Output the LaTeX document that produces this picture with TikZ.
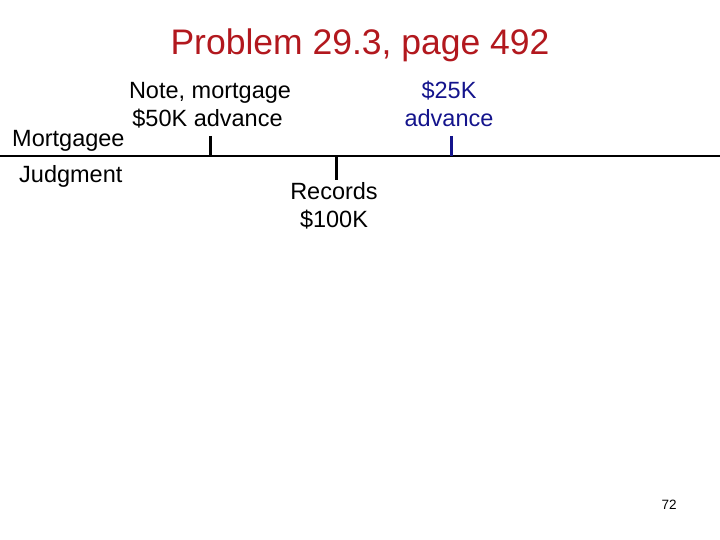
\documentclass[tikz,border=0pt]{standalone}
\usepackage{fontspec}
\setmainfont{Liberation Sans}
\definecolor{titlered}{RGB}{178,24,30}
\definecolor{navy}{RGB}{20,20,140}
\begin{document}
\begin{tikzpicture}[x=1pt,y=-1pt,
  lbl/.style={inner sep=0pt,anchor=base,font=\fontsize{23.5}{28}\selectfont},
  tick/.style={line width=3pt},
  timeline/.style={line width=1.2pt}]
\useasboundingbox (0,0) rectangle (720,540);
\node[inner sep=0pt,anchor=base,text=titlered,font=\fontsize{35.5}{40}\selectfont] (title) at (360,55) {Problem 29.3, page 492};
\node[lbl] (note1) at (210,99) {Note, mortgage};
\node[lbl] (note2) at (207.5,127) {\$50K advance};
\node[lbl,anchor=base west] (mtg) at (12,147) {Mortgagee};
\node[lbl,anchor=base west] (jdg) at (19,183) {Judgment};
\node[lbl] (rec1) at (334,200) {Records};
\node[lbl] (rec2) at (334,228) {\$100K};
\node[lbl,text=navy] (adv1) at (449,99) {\$25K};
\node[lbl,text=navy] (adv2) at (449,127) {advance};
\node[inner sep=0pt,anchor=base,font=\fontsize{13.5}{15}\selectfont] (pg) at (669,509) {72};
\coordinate (L) at (0,156);
\coordinate (R) at (720,156);
\draw[timeline] (L) -- (R);
\coordinate (t1a) at (210,136); \coordinate (t1b) at (210,156);
\coordinate (t2a) at (336,157); \coordinate (t2b) at (336,180);
\coordinate (t3a) at (451,136); \coordinate (t3b) at (451,156);
\draw[tick] (t1a) -- (t1b);
\draw[tick] (t2a) -- (t2b);
\draw[tick,navy] (t3a) -- (t3b);
\end{tikzpicture}
\end{document}
